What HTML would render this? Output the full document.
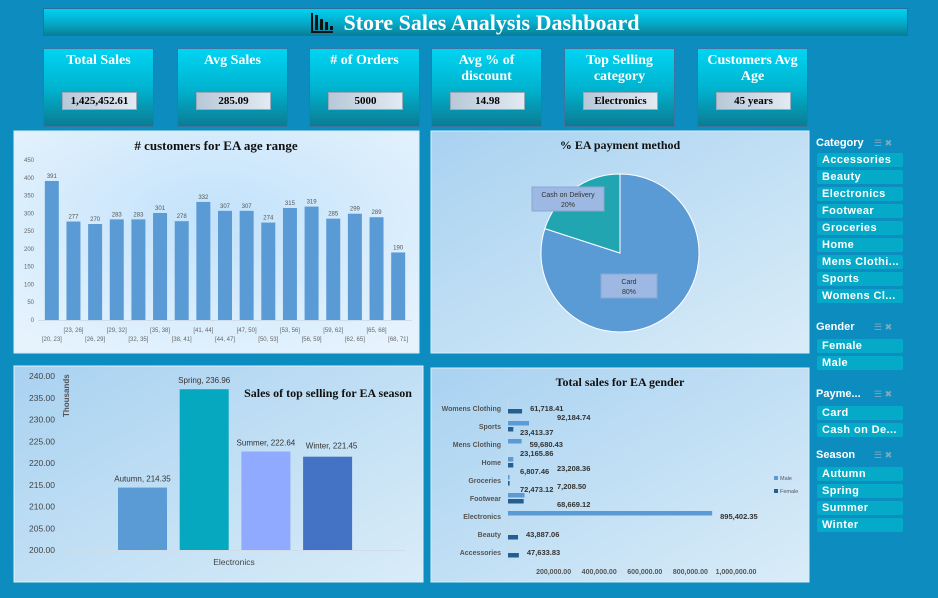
<!DOCTYPE html>
<html><head><meta charset="utf-8">
<style>
*{box-sizing:border-box;margin:0;padding:0}
body{width:938px;height:598px;background:#0d8dbf;position:relative;overflow:hidden;font-family:"Liberation Sans",sans-serif}
.abs{position:absolute}
.title{left:43px;top:8px;width:865px;height:28px;background:linear-gradient(#00d2f2,#06a9c8 55%,#0a7f98);border:1px solid #2a6f98;color:#fff;font-family:"Liberation Serif",serif;font-weight:bold;font-size:22px;text-align:center;line-height:27px}
.ico{display:inline-block;position:relative;width:22px;height:20px;vertical-align:-3px;margin-right:10px;border-left:2px solid #111;border-bottom:2px solid #111}
.ico i{position:absolute;bottom:1px;width:3px;background:#111}
.card{top:48px;width:111px;height:79px;background:linear-gradient(#00d4f2,#00b4d0 50%,#0a7c95);border:1px solid #3a74a0;color:#fff;font-family:"Liberation Serif",serif;font-weight:bold;font-size:14px;text-align:center;line-height:16px;padding-top:4px}
.val{position:absolute;left:18px;top:43px;width:75px;height:18px;background:linear-gradient(90deg,#b8c8d8,#e2eaf2);border:1px solid #9ab;color:#000;font-size:11px;line-height:16px}
.slh{color:#fff;font-weight:bold;font-size:11px;left:816px}
.sli{left:817px;width:86px;height:14px;background:#05aac8;border-radius:2px;color:#fff;font-weight:bold;font-size:11px;line-height:14px;padding-left:5px;letter-spacing:.4px;white-space:nowrap}
.ic{color:#7fa8c0;font-size:9px;left:874px}
svg text{font-family:"Liberation Sans",sans-serif}
</style></head><body>
<div class="abs title"><span class="ico"><i style="left:2px;height:15px"></i><i style="left:7px;height:11px"></i><i style="left:12px;height:8px"></i><i style="left:17px;height:4px"></i></span>Store Sales Analysis Dashboard</div>

<div class="abs card" style="left:43px">Total Sales<div class="val">1,425,452.61</div></div>
<div class="abs card" style="left:177px">Avg Sales<div class="val">285.09</div></div>
<div class="abs card" style="left:309px"># of Orders<div class="val">5000</div></div>
<div class="abs card" style="left:431px">Avg % of discount<div class="val">14.98</div></div>
<div class="abs card" style="left:564px">Top Selling category<div class="val">Electronics</div></div>
<div class="abs card" style="left:697px">Customers Avg Age<div class="val">45 years</div></div>

<svg class="abs" style="left:0;top:0" width="938" height="598">
<defs>
<radialGradient id="g1" cx="50%" cy="40%" r="70%"><stop offset="0" stop-color="#c2e2fb"/><stop offset="1" stop-color="#e6f3fd"/></radialGradient>
<linearGradient id="g2" x1="0" y1="0" x2="1" y2="1"><stop offset="0" stop-color="#a9d2f1"/><stop offset="1" stop-color="#d9ecf8"/></linearGradient>
</defs>
<rect x="14" y="131" width="405" height="222" fill="url(#g1)" stroke="#d8ecfa"/>
<rect x="431" y="131" width="378" height="222" fill="url(#g2)" stroke="#d8ecfa"/>
<rect x="14" y="366" width="409" height="216" fill="url(#g2)" stroke="#e0f0fa"/>
<rect x="431" y="368" width="378" height="214" fill="url(#g2)" stroke="#d8ecfa"/>
<text x="216" y="150" text-anchor="middle" font-weight="bold" font-size="13" fill="#111" style="font-family:'Liberation Serif',serif"># customers for EA age range</text>
<text x="620" y="149" text-anchor="middle" font-weight="bold" font-size="12" fill="#111" style="font-family:'Liberation Serif',serif">% EA payment method</text>
<text x="328" y="397" text-anchor="middle" font-weight="bold" font-size="12" fill="#111" style="font-family:'Liberation Serif',serif">Sales of top selling for EA season</text>
<text x="620" y="386" text-anchor="middle" font-weight="bold" font-size="12" fill="#111" style="font-family:'Liberation Serif',serif">Total sales for EA gender</text>
<g id="age"></g><g id="pie"></g><g id="season"></g><g id="gender"></g>
</svg>

<div class="abs slh" style="top:137px">Category</div>
<div class="abs slh" style="top:321px">Gender</div>
<div class="abs slh" style="top:388px">Payme...</div>
<div class="abs slh" style="top:449px">Season</div>
<div class="abs ic" style="top:138px">☰ ✖</div>
<div class="abs ic" style="top:322px">☰ ✖</div>
<div class="abs ic" style="top:389px">☰ ✖</div>
<div class="abs ic" style="top:450px">☰ ✖</div>
<div id="slicers"></div>

<script>
const NS="http://www.w3.org/2000/svg";
function el(p,t,a,txt){const e=document.createElementNS(NS,t);for(const k in a)e.setAttribute(k,a[k]);if(txt!==undefined)e.textContent=txt;p.appendChild(e);return e;}

const ageCats=["[20, 23]","[23, 26]","[26, 29]","[29, 32]","[32, 35]","[35, 38]","[38, 41]","[41, 44]","[44, 47]","[47, 50]","[50, 53]","[53, 56]","[56, 59]","[59, 62]","[62, 65]","[65, 68]","[68, 71]"];
const ageVals=[391,277,270,283,283,301,278,332,307,307,274,315,319,285,299,289,190];
const ageTicks=[0,50,100,150,200,250,300,350,400,450];
const payCats=["Card","Cash on Delivery"];
const payVals=[80,20];
const seasonCats=["Autumn","Spring","Summer","Winter"];
const seasonVals=[214.35,236.96,222.64,221.45];
const seasonTicks=[200,205,210,215,220,225,230,235,240];
const genderCats=["Womens Clothing","Sports","Mens Clothing","Home","Groceries","Footwear","Electronics","Beauty","Accessories"];
const maleVals=[0,92184.74,59680.43,23165.86,6807.46,72473.12,895402.35,0,0];
const femaleVals=[61718.41,23413.37,0,23208.36,7208.50,68669.12,0,43887.06,47633.83];
const genderTicks=[200000,400000,600000,800000,1000000];

(function(){
 const g=document.getElementById('age');
 const y=v=>320-v*160/450, n=ageVals.length, x0=41, x1=409, step=(x1-x0)/n, bw=14;
 ageTicks.forEach(t=>{const e=el(g,'text',{x:34,y:y(t)+2,'text-anchor':'end','font-size':6,fill:'#666'},t);
 });
 ageVals.forEach((v,i)=>{const cx=x0+step*(i+0.5);
  const r=el(g,'rect',{x:cx-bw/2,y:y(v),width:bw,height:320-y(v),fill:'#5b9bd5'});
  
  const t=el(g,'text',{x:cx,y:y(v)-3,'text-anchor':'middle','font-size':6,fill:'#555'},v);
  
  const c=el(g,'text',{x:cx,y:i%2?332:341,'text-anchor':'middle','font-size':6,fill:'#666'},ageCats[i]);
  });
 el(g,'line',{x1:38,x2:412,y1:320.5,y2:320.5,stroke:'#d0dce8'});
})();

(function(){
 const g=document.getElementById('pie'),cx=620,cy=253,R=79,tot=payVals.reduce((a,b)=>a+b,0);
 const cols=['#5b9bd5','#21a5b0'];let a0=0;
 payVals.forEach((v,i)=>{const a1=a0+v/tot*2*Math.PI;
  const p=(a)=>[cx+R*Math.sin(a),cy-R*Math.cos(a)];const [xa,ya]=p(a0),[xb,yb]=p(a1);
  const s=el(g,'path',{d:`M${cx},${cy}L${xa},${ya}A${R},${R} 0 ${a1-a0>Math.PI?1:0} 1 ${xb},${yb}Z`,fill:cols[i],stroke:'#fff','stroke-width':1});
  
  a0=a1;});
 const lb=[[629,286,56],[568,199,72]];
 payCats.forEach((c,i)=>{const [lx,ly,w]=lb[i];
  const b=el(g,'rect',{x:lx-w/2,y:ly-12,width:w,height:24,fill:'#9db8e2',stroke:'#8aa8d0'});
  
  const t1=el(g,'text',{x:lx,y:ly-2,'text-anchor':'middle','font-size':7,fill:'#333'},c);
  
  const t2=el(g,'text',{x:lx,y:ly+8,'text-anchor':'middle','font-size':7,fill:'#333'},payVals[i]+'%');
  });
})();

(function(){
 const g=document.getElementById('season'),y=v=>550-(v-200)*174/40;
 seasonTicks.forEach(t=>{const e=el(g,'text',{x:55,y:y(t)+3,'text-anchor':'end','font-size':8.5,fill:'#444'},t.toFixed(2));
  });
 const t=el(g,'text',{x:0,y:0,'font-size':8,'font-weight':'bold',fill:'#555',transform:'translate(69,417) rotate(-90)'},'Thousands');
 
 el(g,'line',{x1:65,x2:405,y1:550.5,y2:550.5,stroke:'#d0dde8'});
 const cols=['#5b9bd5','#05a8bf','#8faaff','#4472c4'],x0=118,step=61.7,bw=49;
 seasonVals.forEach((v,i)=>{const x=x0+i*step;
  const r=el(g,'rect',{x:x,y:y(v),width:bw,height:550-y(v),fill:cols[i]});
  
  const l=el(g,'text',{x:x+bw/2+(i==3?4:0),y:y(v)-(i==3?8:6),'text-anchor':'middle','font-size':8,fill:'#333'},seasonCats[i]+',  '+v.toFixed(2));
  });
 const c=el(g,'text',{x:234,y:565,'text-anchor':'middle','font-size':8.5,fill:'#444'},'Electronics');
 
})();

(function(){
 const g=document.getElementById('gender'),x=v=>508+v*228/1000000,rowY=i=>408+i*18;
 el(g,'line',{x1:508,x2:508,y1:398,y2:560,stroke:'#c8d8e6'});
 genderTicks.forEach(t=>{const e=el(g,'text',{x:x(t),y:574,'text-anchor':'middle','font-size':7,'font-weight':'bold',fill:'#555'},t.toLocaleString('en-US',{minimumFractionDigits:2}));
  });
 genderCats.forEach((c,i)=>{const yy=rowY(i);
  const t=el(g,'text',{x:501,y:yy+3,'text-anchor':'end','font-size':7,'font-weight':'bold',fill:'#555'},c);
  
  const m=maleVals[i],f=femaleVals[i],both=m&&f,swap=m>f*2;
  [[m,'#5b9bd5',-5,0],[f,'#255e91',1,1]].forEach(([v,col,dy,k])=>{
   if(!v)return;
   const r=el(g,'rect',{x:508,y:yy+dy,width:Math.max(1,x(v)-508),height:4.5,fill:col});
   
   let lx,ly;
   if(both){ly=k===0?yy-6:yy+9;lx=(k===0)!==swap?520:557;}
   else{ly=yy+3;lx=x(v)+8;}
   const l=el(g,'text',{x:lx,y:ly,'font-size':7.5,'font-weight':'bold',fill:'#333'},v.toLocaleString('en-US',{minimumFractionDigits:2}));
   });});
 [['Male','#5b9bd5',480],['Female','#255e91',493]].forEach(([n,c,yy])=>{
  const s=el(g,'rect',{x:774,y:yy-4,width:4,height:4,fill:c});
  const t=el(g,'text',{x:780,y:yy,'font-size':5.5,fill:'#556'},n);});
})();

(function(){
 const d=document.getElementById('slicers');
 const groups=[[153,["Accessories","Beauty","Electronics","Footwear","Groceries","Home","Mens Clothi...","Sports","Womens Cl..."]],[339,["Female","Male"]],[406,["Card","Cash on De..."]],[467,["Autumn","Spring","Summer","Winter"]]];
 groups.forEach(([top,items])=>items.forEach((it,i)=>{const b=document.createElement('div');b.className='abs sli';b.style.top=(top+i*17)+'px';b.textContent=it;
  
  
  d.appendChild(b);}));
})();
</script>
</body></html>
